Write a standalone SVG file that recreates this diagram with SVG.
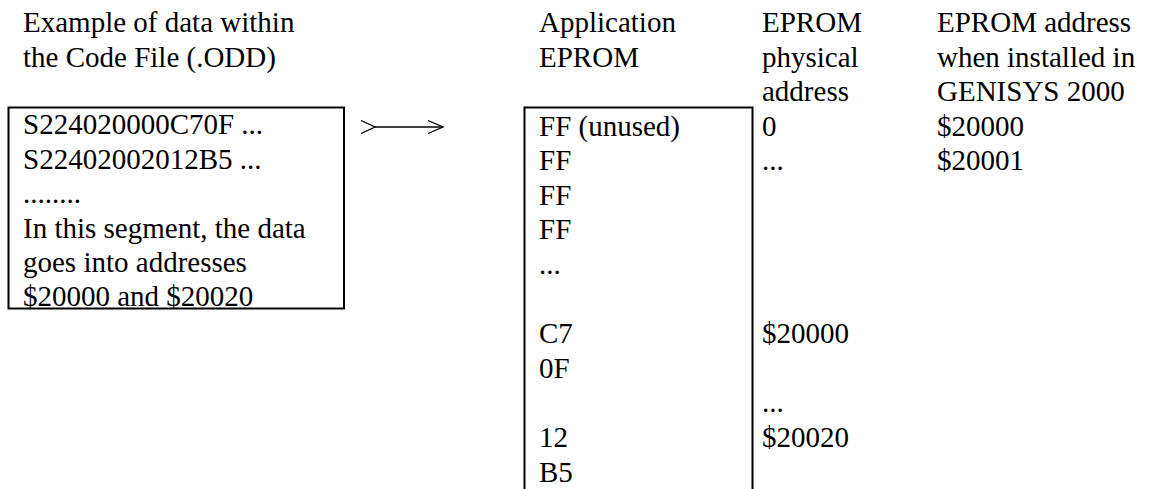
<svg xmlns="http://www.w3.org/2000/svg" width="1150" height="489" viewBox="0 0 1150 489">
<style>
text{font-family:"Liberation Serif","Times New Roman",serif;font-size:29px;fill:#000}
.box{fill:none;stroke:#000;stroke-width:2}
.ln{fill:none;stroke:#000;stroke-width:1.3}
</style>
<rect width="1150" height="489" fill="#fff"/>
<g id="code-file-header">
<text x="23" y="32">Example of data within</text>
<text x="23" y="66.5">the Code File (.ODD)</text>
</g>
<g id="code-file">
<rect class="box" x="8.5" y="107.5" width="335.5" height="201"/>
<text x="23" y="134">S224020000C70F ...</text>
<text x="23" y="168.5">S22402002012B5 ...</text>
<text x="23" y="203">........</text>
<text x="23" y="237.5">In this segment, the data</text>
<text x="23" y="272">goes into addresses</text>
<text x="23" y="306">$20000 and $20020</text>
</g>
<g id="connectors">
<path class="ln" d="M375 127 H443"/>
<path class="ln" d="M361 120.5 L375 127 L361 133.5"/>
<path class="ln" d="M428 120.5 L443 127 L428 133.5"/>
</g>
<g id="eprom-header">
<text x="539" y="32">Application</text>
<text x="539" y="66.5">EPROM</text>
</g>
<g id="eprom">
<path class="box" d="M524.5 490 V107.5 H752.5 V490"/>
<text x="539" y="135.5">FF (unused)</text>
<text x="539" y="170">FF</text>
<text x="539" y="204.5">FF</text>
<text x="539" y="239">FF</text>
<text x="539" y="273.5">...</text>
<text x="539" y="343">C7</text>
<text x="539" y="377.5">0F</text>
<text x="539" y="447">12</text>
<text x="539" y="481.5">B5</text>
</g>
<g id="physical-address">
<text x="762" y="32">EPROM</text>
<text x="762" y="66.5">physical</text>
<text x="762" y="101">address</text>
<text x="762" y="135.5">0</text>
<text x="762" y="170">...</text>
<text x="762" y="343">$20000</text>
<text x="762" y="412">...</text>
<text x="762" y="447">$20020</text>
</g>
<g id="installed-address">
<text x="937" y="32">EPROM address</text>
<text x="937" y="66.5">when installed in</text>
<text x="937" y="101">GENISYS 2000</text>
<text x="937" y="135.5">$20000</text>
<text x="937" y="170">$20001</text>
</g>
</svg>
